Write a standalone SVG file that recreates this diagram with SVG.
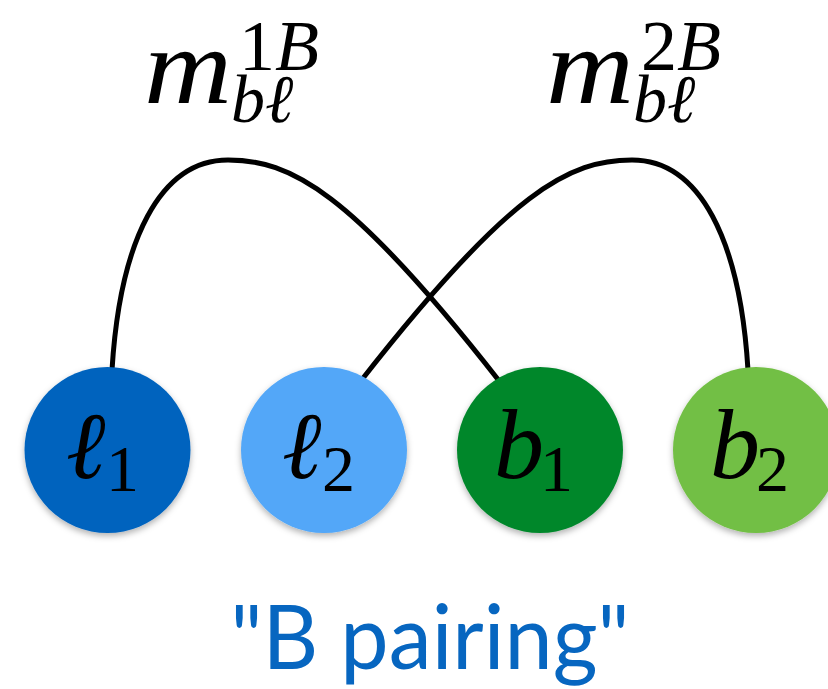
<svg xmlns="http://www.w3.org/2000/svg" width="828" height="689" viewBox="0 0 828 689">
<style>
.edge{fill:none;stroke:#000;stroke-width:5;stroke-linecap:butt}
</style>
<defs>
<filter id="sh" x="-20%" y="-20%" width="140%" height="150%">
<feDropShadow dx="0" dy="3" stdDeviation="3" flood-color="#000" flood-opacity="0.3"/>
</filter>
</defs>
<g id="connectors">
<path class="edge" d="M112,370 C120,240 160,160 228,160 C290,160 350,190 500,382"/>
<path class="edge" d="M748,370 C740,240 700,160 632,160 C570,160 510,190 360,382"/>
</g>
<g font-family="Liberation Serif, DejaVu Serif, serif" font-style="italic" fill="#000">
<g id="node-l1">
<circle cx="107.5" cy="450" r="83" fill="#0564BE" filter="url(#sh)"/>
<text x="66" y="478" font-size="95">ℓ</text>
<text x="106" y="491" font-size="66" font-style="normal">1</text>
</g>
<g id="node-l2">
<circle cx="324" cy="450" r="83" fill="#52A7F8" filter="url(#sh)"/>
<text x="282" y="478" font-size="95">ℓ</text>
<text x="322" y="491" font-size="66" font-style="normal">2</text>
</g>
<g id="node-b1">
<circle cx="540" cy="450" r="83" fill="#05872C" filter="url(#sh)"/>
<text x="494" y="478" font-size="100">b</text>
<text x="540" y="491" font-size="66" font-style="normal">1</text>
</g>
<g id="node-b2">
<circle cx="756" cy="450" r="83" fill="#72BF44" filter="url(#sh)"/>
<text x="710" y="478" font-size="100">b</text>
<text x="756" y="491" font-size="66" font-style="normal">2</text>
</g>
<g id="label-1B">
<text x="144" y="103" font-size="108" textLength="88" lengthAdjust="spacingAndGlyphs">m</text>
<text x="239" y="70" font-size="72"><tspan font-style="normal">1</tspan>B</text>
<text x="231" y="122" font-size="68">bℓ</text>
</g>
<g id="label-2B">
<text x="546" y="103" font-size="108" textLength="88" lengthAdjust="spacingAndGlyphs">m</text>
<text x="641" y="70" font-size="72"><tspan font-style="normal">2</tspan>B</text>
<text x="633" y="122" font-size="68">bℓ</text>
</g>
</g>
<g id="caption">
<text x="430" y="669" font-family="Lato, Open Sans, sans-serif" fill="#0766C0" font-size="90" text-anchor="middle" textLength="399" lengthAdjust="spacingAndGlyphs">"B pairing"</text>
</g>
</svg>
